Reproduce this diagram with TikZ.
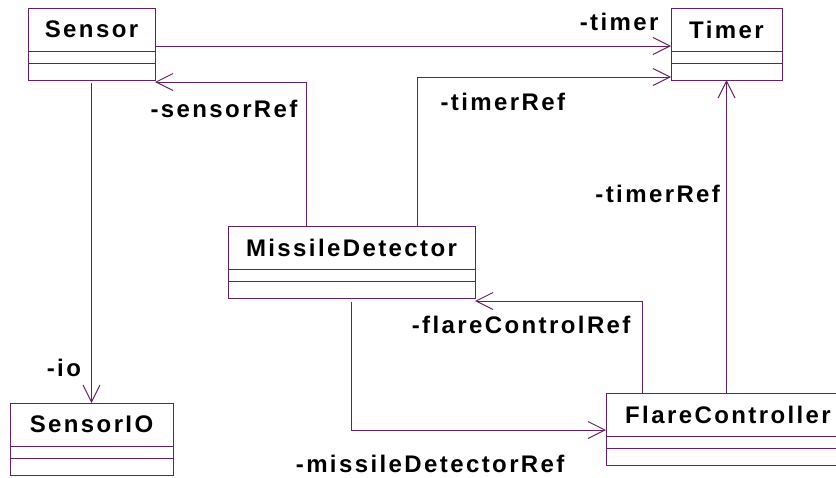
\documentclass[tikz,border=0pt]{standalone}
\usepackage{fontspec}
\newfontfamily\umlfont[LetterSpace=10]{Liberation Sans}
\definecolor{umlviolet}{RGB}{102,32,102}
\usetikzlibrary{positioning,arrows.meta}

\begin{document}
\begin{tikzpicture}[
    x=1pt, y=-1pt,
    font=\umlfont\bfseries\fontsize{24}{28}\selectfont,
    box/.style={rectangle, draw=umlviolet, line width=1pt, fill=white,
      inner sep=0pt, outer sep=0pt},
    classname/.style={box, minimum height=43pt},
    attrs/.style={box, minimum height=12pt},
    ops/.style={box, minimum height=17pt},
    role/.style={inner sep=0pt},
    assoc/.style={draw=umlviolet, line width=1pt,
      -{Straight Barb[length=17pt,width=17pt]}}
  ]
    \useasboundingbox (0,0) rectangle (836,477);

    % classes
    \node[classname, minimum width=127pt] (sensor) at (91.5,29.5) {Sensor};
    \node[attrs, minimum width=127pt, below=0pt of sensor] (sensor-a) {};
    \node[ops, minimum width=127pt, below=0pt of sensor-a] (sensor-o) {};

    \node[classname, minimum width=111pt] (timer) at (726.5,29.5) {Timer};
    \node[attrs, minimum width=111pt, below=0pt of timer] (timer-a) {};
    \node[ops, minimum width=111pt, below=0pt of timer-a] (timer-o) {};

    \node[classname, minimum width=247pt] (md) at (351.5,247.5) {MissileDetector};
    \node[attrs, minimum width=247pt, below=0pt of md] (md-a) {};
    \node[ops, minimum width=247pt, below=0pt of md-a] (md-o) {};

    \node[classname, minimum width=163pt] (sio) at (91.5,424.5) {SensorIO};
    \node[attrs, minimum width=163pt, below=0pt of sio] (sio-a) {};
    \node[ops, minimum width=163pt, below=0pt of sio-a] (sio-o) {};

    \node[classname, minimum width=244pt] (fc) at (728,414.5) {FlareController};
    \node[attrs, minimum width=244pt, below=0pt of fc] (fc-a) {};
    \node[ops, minimum width=244pt, below=0pt of fc-a] (fc-o) {};

    % associations
    \coordinate (timer-in) at ([yshift=5pt]timer.south west);
    \coordinate (timer-in2) at ([yshift=3pt]timer-o.south west);
    \coordinate (sensor-in) at ([yshift=-2pt]sensor-o.south east);
    \coordinate (fc-in) at ([yshift=6pt]fc.south west);
    \coordinate (md-in) at ([yshift=-3pt]md-o.south east);

    \draw[assoc] (sensor.east |- timer-in) -- (timer-in)
      node[role, pos=1, anchor=base east, xshift=-12pt, yshift=16pt] {-timer};
    \draw[assoc] ([xshift=65.5pt]md.north) |- (timer-in2)
      node[role, pos=0.5, anchor=base west, xshift=23pt, yshift=-33pt] {-timerRef};
    \draw[assoc] ([xshift=-45.5pt]md.north) |- (sensor-in)
      node[role, pos=0.5, anchor=base east, xshift=-8pt, yshift=-35pt] {-sensorRef};
    \draw[assoc] ([yshift=-3pt]sensor-o.south) -- (sio.north)
      node[role, pos=1, anchor=base east, xshift=-10pt, yshift=27pt] {-io};
    \draw[assoc] ([yshift=-4pt]md-o.south) |- (fc-in)
      node[role, pos=1, anchor=base east, xshift=-41pt, yshift=-42pt] {-missileDetectorRef};
    \draw[assoc] ([xshift=-86pt]fc.north) |- (md-in)
      node[role, pos=0.5, anchor=base east, xshift=-11pt, yshift=-32pt] {-flareControlRef};
    \draw[assoc] (timer-o.south |- fc.north) -- (timer-o.south)
      node[role, pos=0.61, anchor=base east, xshift=-6pt] {-timerRef};
  \end{tikzpicture}
\end{document}
